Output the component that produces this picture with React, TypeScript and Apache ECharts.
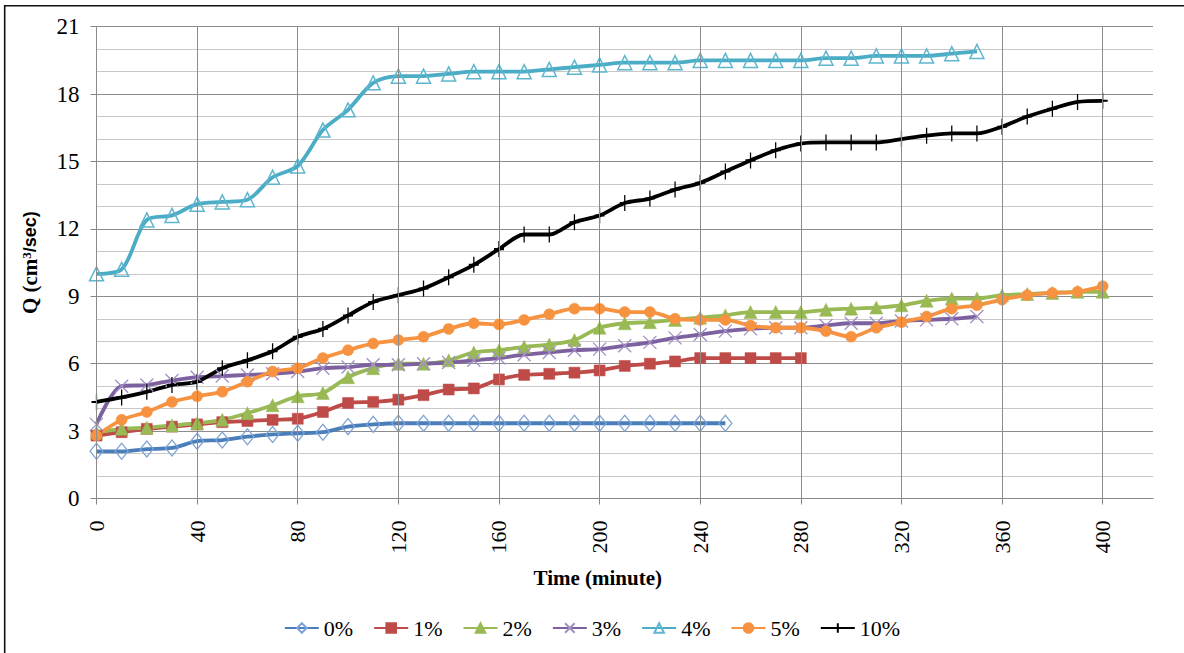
import React, { useEffect, useRef } from "react";
import * as echarts from "echarts";

const TIME = [0, 10, 20, 30, 40, 50, 60, 70, 80, 90, 100, 110, 120, 130, 140, 150, 160, 170, 180, 190, 200, 210, 220, 230, 240, 250, 260, 270, 280, 290, 300, 310, 320, 330, 340, 350, 360, 370, 380, 390, 400];

const Q_0 = [2.1, 2.1, 2.2, 2.25, 2.55, 2.6, 2.75, 2.85, 2.9, 2.95, 3.2, 3.3, 3.35, 3.35, 3.35, 3.35, 3.35, 3.35, 3.35, 3.35, 3.35, 3.35, 3.35, 3.35, 3.35, 3.35];
const Q_1 = [2.8, 2.95, 3.1, 3.2, 3.3, 3.4, 3.45, 3.5, 3.55, 3.85, 4.25, 4.3, 4.4, 4.6, 4.85, 4.9, 5.3, 5.5, 5.55, 5.6, 5.7, 5.9, 6.0, 6.1, 6.25, 6.25, 6.25, 6.25, 6.25];
const Q_2 = [2.95, 3.1, 3.15, 3.25, 3.35, 3.5, 3.8, 4.15, 4.55, 4.7, 5.4, 5.8, 6.0, 6.0, 6.15, 6.5, 6.6, 6.75, 6.85, 7.05, 7.6, 7.8, 7.85, 7.95, 8.05, 8.15, 8.3, 8.3, 8.3, 8.4, 8.45, 8.5, 8.6, 8.8, 8.9, 8.9, 9.05, 9.1, 9.15, 9.2, 9.2];
const Q_3 = [3.3, 5.0, 5.05, 5.25, 5.4, 5.45, 5.5, 5.55, 5.65, 5.8, 5.85, 5.95, 5.95, 6.0, 6.05, 6.15, 6.25, 6.4, 6.5, 6.6, 6.65, 6.8, 6.95, 7.15, 7.3, 7.45, 7.55, 7.6, 7.6, 7.7, 7.8, 7.8, 7.9, 7.95, 8.0, 8.1];
const Q_4 = [10.0, 10.2, 12.4, 12.6, 13.1, 13.2, 13.3, 14.3, 14.8, 16.4, 17.3, 18.5, 18.8, 18.8, 18.9, 19.0, 19.0, 19.0, 19.1, 19.2, 19.3, 19.4, 19.4, 19.4, 19.5, 19.5, 19.5, 19.5, 19.5, 19.6, 19.6, 19.7, 19.7, 19.7, 19.8, 19.9];
const Q_5 = [2.8, 3.5, 3.85, 4.3, 4.55, 4.75, 5.2, 5.65, 5.8, 6.25, 6.6, 6.9, 7.05, 7.2, 7.55, 7.8, 7.75, 7.95, 8.2, 8.45, 8.45, 8.3, 8.3, 8.0, 7.95, 7.95, 7.7, 7.6, 7.6, 7.45, 7.2, 7.6, 7.85, 8.1, 8.45, 8.6, 8.85, 9.05, 9.15, 9.2, 9.45];
const Q_10 = [4.3, 4.5, 4.75, 5.05, 5.2, 5.8, 6.15, 6.55, 7.2, 7.55, 8.15, 8.75, 9.05, 9.35, 9.85, 10.4, 11.1, 11.75, 11.75, 12.3, 12.6, 13.15, 13.35, 13.75, 14.05, 14.55, 15.05, 15.5, 15.8, 15.85, 15.85, 15.85, 16.0, 16.15, 16.25, 16.25, 16.55, 17.0, 17.35, 17.65, 17.7];

const SERIES_NAMES = ["0%", "1%", "2%", "3%", "4%", "5%", "10%"];
const MAJOR_X = [0, 40, 80, 120, 160, 200, 240, 280, 320, 360, 400];

const SERIF = "Liberation Serif";
const SANS = "Liberation Sans";

const pairs = (vals: number[]) => vals.map((v, i) => [TIME[i], v]);

export default function App() {
  const ref = useRef<HTMLDivElement>(null);
  useEffect(() => {
    if (!ref.current) return;
    const chart = echarts.init(ref.current, null, { renderer: "svg" });

    const mk = (
      name: string,
      vals: number[],
      lineColor: string,
      symbol: string,
      size: number | number[],
      fill: string,
      stroke: string,
      strokeW: number
    ) => ({
      type: "line",
      name,
      data: pairs(vals),
      smooth: 0.3,
      symbol,
      symbolSize: size,
      showSymbol: true,
      showAllSymbol: true,
      lineStyle: { color: lineColor, width: 3.8 },
      itemStyle: { color: fill, borderColor: stroke, borderWidth: strokeW },
      emphasis: { disabled: true },
      z: 3,
    });

    const option: any = {
      animation: false,
      backgroundColor: "#ffffff",
      textStyle: { fontFamily: SERIF },
      grid: {
        left: 96.5,
        right: 31,
        top: 26.7,
        bottom: 154.5,
        containLabel: false,
        outerBoundsMode: "none",
      },
      graphic: [
        {
          type: "rect",
          shape: { x: 4.7, y: 5.7, width: 1260, height: 700 },
          style: { fill: "none", stroke: "#111", lineWidth: 1.6 },
          silent: true,
        },
      ],
      legend: {
        data: SERIES_NAMES,
        left: "center",
        top: 612,
        itemWidth: 34,
        itemHeight: 12,
        itemGap: 20,
        textStyle: { fontFamily: SERIF, fontSize: 22, color: "#000" },
        selectedMode: false,
      },
      xAxis: {
        type: "value",
        min: 0,
        max: 420,
        interval: 10,
        name: "Time (minute)",
        nameLocation: "middle",
        nameGap: 69,
        nameTextStyle: {
          fontFamily: SERIF,
          fontWeight: "bold",
          fontSize: 21,
          color: "#000",
          padding: [0, 54, 0, 0],
        },
        axisLine: { show: true, lineStyle: { color: "#868686", width: 1 } },
        axisTick: {
          show: true,
          length: 6,
          customValues: MAJOR_X,
          lineStyle: { color: "#868686" },
        },
        axisLabel: {
          show: true,
          rotate: 90,
          margin: 22,
          customValues: MAJOR_X,
          formatter: (v: number) => (v % 40 === 0 && v <= 400 ? String(v) : ""),
          fontFamily: SERIF,
          fontSize: 22,
          color: "#000",
        },
        splitLine: { show: true, lineStyle: { color: "#c8c8c8", width: 1 } },
      },
      yAxis: {
        type: "value",
        min: 0,
        max: 21,
        interval: 3,
        name: "{a|Q (cm}{sup|3}{b|/sec)}",
        nameLocation: "middle",
        nameGap: 56,
        nameTextStyle: {
          color: "#000",
          rich: {
            a: { fontFamily: SERIF, fontWeight: "bold", fontSize: 21, color: "#000" },
            sup: {
              fontFamily: SERIF,
              fontWeight: "bold",
              fontSize: 13,
              color: "#000",
              verticalAlign: "top",
              padding: [0, 0, 8, 0],
            },
            b: { fontFamily: SANS, fontWeight: "bold", fontSize: 18, color: "#000" },
          },
        },
        axisLine: { show: true, lineStyle: { color: "#868686", width: 1 } },
        axisTick: { show: true, length: 6, lineStyle: { color: "#868686" } },
        axisLabel: {
          margin: 17,
          fontFamily: SERIF,
          fontSize: 23,
          color: "#000",
        },
        splitLine: { show: true, lineStyle: { color: "#8c8c8c", width: 1 } },
        minorTick: { show: false, splitNumber: 3 },
        minorSplitLine: { show: true, lineStyle: { color: "#c8c8c8", width: 1 } },
      },
      series: [
        {
          type: "line",
          name: "_grid",
          data: [],
          silent: true,
          z: 1,
          markLine: {
            silent: true,
            symbol: ["none", "none"],
            label: { show: false },
            lineStyle: { color: "#8c8c8c", width: 1, type: "solid" },
            emphasis: { disabled: true },
            data: MAJOR_X.map((x) => ({ xAxis: x })),
          },
        },
        mk("0%", Q_0, "#4A7EBB", "diamond", [13, 16], "rgba(255,255,255,0)", "#7FA3D5", 1.3),
        mk("1%", Q_1, "#BE4B48", "rect", 11, "#BE4B48", "#BE4B48", 0.5),
        mk("2%", Q_2, "#98B954", "triangle", 13, "#98B954", "#98B954", 0.5),
        mk("3%", Q_3, "#7D60A0", "path://M0,0L10,10M10,0L0,10", 13, "rgba(255,255,255,0)", "#A28FC4", 1.3),
        mk("4%", Q_4, "#4BACC6", "triangle", 14, "rgba(255,255,255,0)", "#5DB6CE", 1.5),
        mk("5%", Q_5, "#F69240", "circle", 11, "#F69240", "#F69240", 0.5),
        mk("10%", Q_10, "#000000", "path://M5,0L5,10M0,5L10,5", [10, 16], "rgba(255,255,255,0)", "#000000", 1.6),
      ],
    };

    chart.setOption(option);
    return () => chart.dispose();
  }, []);

  return (
    <div
      ref={ref}
      style={{ position: "fixed", left: 0, top: 0, width: 1184, height: 653 }}
    />
  );
}
